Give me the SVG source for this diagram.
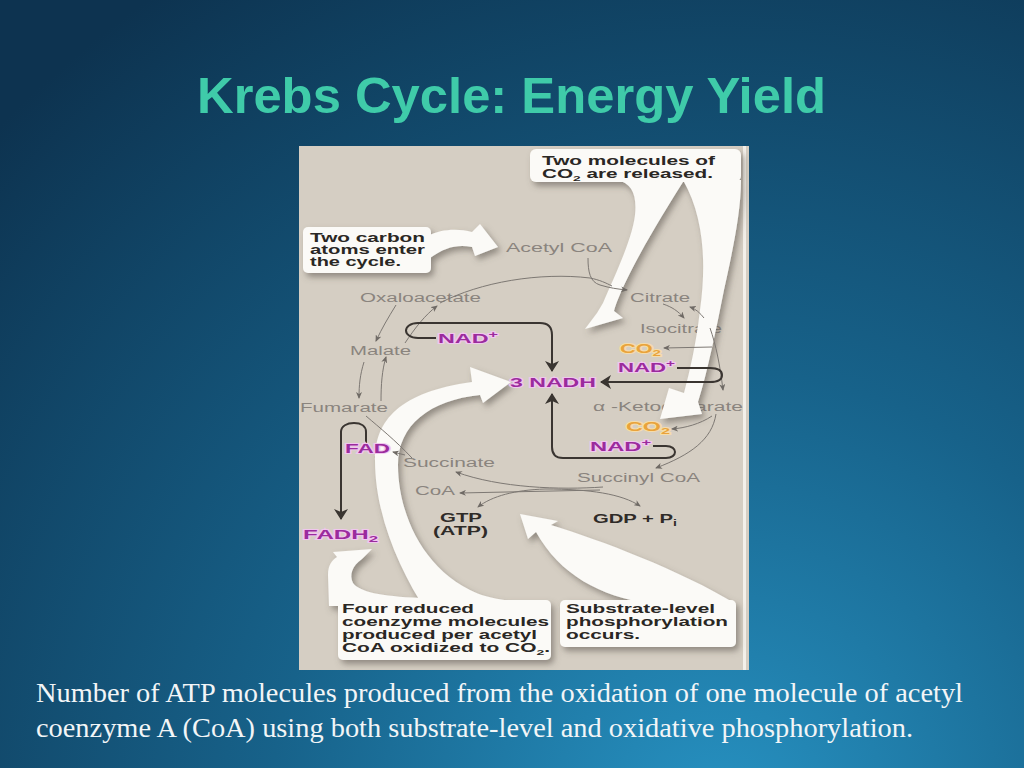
<svg xmlns="http://www.w3.org/2000/svg" width="1024" height="768" viewBox="0 0 1024 768">
<defs>
<radialGradient id="bg" cx="720" cy="820" r="1000" gradientUnits="userSpaceOnUse">
<stop offset="0" stop-color="#2792c2"/>
<stop offset="0.45" stop-color="#17628a"/>
<stop offset="1" stop-color="#0d3350"/>
</radialGradient>
<filter id="sh" x="-15%" y="-15%" width="140%" height="140%">
<feDropShadow dx="3" dy="4" stdDeviation="3" flood-color="#5a534c" flood-opacity="0.55"/>
</filter>
<marker id="ag" viewBox="0 0 7 6" refX="6" refY="3" markerWidth="7" markerHeight="6" markerUnits="userSpaceOnUse" orient="auto">
<path d="M0,0 L7,3 L0,6 L2,3 Z" fill="#6f6a65"/>
</marker>
<marker id="ad" viewBox="0 0 11 14" refX="10" refY="7" markerWidth="11" markerHeight="14" markerUnits="userSpaceOnUse" orient="auto">
<path d="M0,0 L11,7 L0,14 L3,7 Z" fill="#3a3531"/>
</marker>
<style>
.title{font-family:"Liberation Sans",Arial,sans-serif;font-weight:bold;font-size:50px;fill:#3fcba9}
.cap{font-family:"Liberation Serif","Times New Roman",serif;font-size:28px;fill:#f2f5f7}
.lbl{font-family:"Liberation Sans",Arial,sans-serif;font-size:12.5px;fill:#8a847e}
.mag{font-family:"Liberation Sans",Arial,sans-serif;font-weight:bold;font-size:13px;fill:#9b2b9d;stroke:#f0c6ee;stroke-width:2;paint-order:stroke}
.org{font-family:"Liberation Sans",Arial,sans-serif;font-weight:bold;font-size:13px;fill:#e9a33b;stroke:#f5dcaa;stroke-width:2;paint-order:stroke}
.drk{font-family:"Liberation Sans",Arial,sans-serif;font-weight:bold;font-size:13px;fill:#2f2b28}
.box{font-family:"Liberation Sans",Arial,sans-serif;font-weight:bold;font-size:12px;fill:#2a2724}
.white{fill:#fbfaf7}
.thin{fill:none;stroke:#7d7873;stroke-width:1}
.dark{fill:none;stroke:#3a3531;stroke-width:2}
</style>
</defs>

<rect x="0" y="0" width="1024" height="768" fill="url(#bg)"/>

<text class="title" x="197" y="113" textLength="629" lengthAdjust="spacingAndGlyphs">Krebs Cycle: Energy Yield</text>

<!-- panel -->
<rect x="299" y="146" width="450" height="524" fill="#d5cec3"/>
<rect x="743" y="146" width="3" height="524" fill="#f3f0ea"/>

<!-- pathway labels (nodes) -->
<g id="acetyl-coa"><text class="lbl" x="506" y="252" textLength="106" lengthAdjust="spacingAndGlyphs">Acetyl CoA</text></g>
<g id="oxaloacetate"><text class="lbl" x="360" y="302" textLength="121" lengthAdjust="spacingAndGlyphs">Oxaloacetate</text></g>
<g id="citrate"><text class="lbl" x="630" y="302" textLength="60" lengthAdjust="spacingAndGlyphs">Citrate</text></g>
<g id="isocitrate"><text class="lbl" x="640" y="333" textLength="82" lengthAdjust="spacingAndGlyphs">Isocitrate</text></g>
<g id="malate"><text class="lbl" x="350" y="355" textLength="61" lengthAdjust="spacingAndGlyphs">Malate</text></g>
<g id="fumarate"><text class="lbl" x="300" y="412" textLength="88" lengthAdjust="spacingAndGlyphs">Fumarate</text></g>
<g id="a-ketoglutarate"><text class="lbl" x="593" y="411" textLength="150" lengthAdjust="spacingAndGlyphs">α -Ketoglutarate</text></g>
<g id="succinate"><text class="lbl" x="403" y="467" textLength="92" lengthAdjust="spacingAndGlyphs">Succinate</text></g>
<g id="succinyl-coa"><text class="lbl" x="577" y="482" textLength="123" lengthAdjust="spacingAndGlyphs">Succinyl CoA</text></g>
<g id="coa"><text class="lbl" x="415" y="495" textLength="40" lengthAdjust="spacingAndGlyphs">CoA</text></g>

<!-- top callout: two molecules of CO2 -->
<g id="callout-co2">
<g filter="url(#sh)">
<rect class="white" x="530" y="149" width="211" height="33" rx="6"/>
<path class="white" d="M600,180 L617,180 C632,183 637,195 635,215 C632,240 615,275 603,303 L597,313 L585,329 L623,318 L614,311 C620,290 640,250 683,182 Z"/>
<path class="white" d="M683,180 C703,215 707,260 700,310 C696,345 690,370 684,393 L669,388 L660,419 L702,414 L698,402 C708,370 716,330 724,290 C734,245 741,210 741,180 Z"/>
</g>
<text class="box" x="542" y="165" textLength="173" lengthAdjust="spacingAndGlyphs">Two molecules of</text>
<text class="box" x="542" y="178" textLength="171" lengthAdjust="spacingAndGlyphs">CO<tspan font-size="8" dy="3">2</tspan><tspan dy="-3"> are released.</tspan></text>
</g>

<!-- callout: two carbon atoms -->
<g id="callout-carbon">
<g filter="url(#sh)">
<rect class="white" x="303" y="227" width="128" height="46" rx="5"/>
<path class="white" d="M428,236 C440,229 458,228 472,232 L480,224 L498,247 L475,256 L472,247 C458,244 445,247 430,258 Z"/>
</g>
<text class="box" x="310" y="242" textLength="115" lengthAdjust="spacingAndGlyphs">Two carbon</text>
<text class="box" x="310" y="254" textLength="115" lengthAdjust="spacingAndGlyphs">atoms enter</text>
<text class="box" x="310" y="266" textLength="91" lengthAdjust="spacingAndGlyphs">the cycle.</text>
</g>

<!-- bottom callouts -->
<g id="callout-coenzymes">
<g filter="url(#sh)">
<rect class="white" x="338" y="600" width="213" height="60" rx="5"/>
<path class="white" d="M329,606 L328,575 C328,565 332,560 337,557 L333,552 L372,549 L362,559 C352,566 349,575 353,583 C360,592 380,596 420,598 L420,606 Z"/>
<path class="white" d="M420,601 C395,560 375,510 375,460 C375,420 400,392 472,382 L470,367 L511,382 L483,403 L480,395 C430,400 398,425 398,465 C398,510 420,565 470,590 C480,595 490,598 510,601 Z"/>
</g>
<text class="box" x="342" y="613" textLength="132" lengthAdjust="spacingAndGlyphs">Four reduced</text>
<text class="box" x="342" y="626" textLength="207" lengthAdjust="spacingAndGlyphs">coenzyme molecules</text>
<text class="box" x="342" y="639" textLength="195" lengthAdjust="spacingAndGlyphs">produced per acetyl</text>
<text class="box" x="342" y="652" textLength="208" lengthAdjust="spacingAndGlyphs">CoA oxidized to CO<tspan font-size="8" dy="3">2</tspan><tspan dy="-3">.</tspan></text>
</g>

<g id="callout-substrate">
<g filter="url(#sh)">
<rect class="white" x="560" y="600" width="176" height="47" rx="5"/>
<path class="white" d="M520,514 L558,521 L551,525 C600,540 680,570 736,604 L650,604 C600,596 560,575 536,532 L528,539 Z"/>
</g>
<text class="box" x="566" y="613" textLength="149" lengthAdjust="spacingAndGlyphs">Substrate-level</text>
<text class="box" x="566" y="626" textLength="162" lengthAdjust="spacingAndGlyphs">phosphorylation</text>
<text class="box" x="566" y="639" textLength="74" lengthAdjust="spacingAndGlyphs">occurs.</text>
</g>

<!-- connectors -->
<g id="connectors">
<path class="thin" d="M588,258 C588,272 590,282 600,285 C610,288 617,289 627,290" marker-end="url(#ag)"/>
<path class="thin" d="M440,303 C480,282 540,272 590,278 C600,280 606,283 612,286"/>
<path class="thin" d="M663,304 C672,307 678,311 684,318" marker-end="url(#ag)"/>
<path class="thin" d="M704,318 C700,313 696,309 690,307" marker-end="url(#ag)"/>
<path class="thin" d="M710,328 C716,345 720,365 723,390" marker-end="url(#ag)"/>
<path class="thin" d="M712,347 L664,348" marker-end="url(#ag)"/>
<path class="thin" d="M712,416 C700,424 685,428 672,429" marker-end="url(#ag)"/>
<path class="thin" d="M716,414 C712,440 690,455 656,468" marker-end="url(#ag)"/>
<path class="thin" d="M603,487 C560,490 500,488 456,472" marker-end="url(#ag)"/>
<path class="thin" d="M600,490 L460,493" marker-end="url(#ag)"/>
<path class="thin" d="M545,489 C515,490 492,496 478,507" marker-end="url(#ag)"/>
<path class="thin" d="M545,489 C590,489 622,494 640,506" marker-end="url(#ag)"/>
<path class="thin" d="M405,343 C415,328 425,315 437,306" marker-end="url(#ag)"/>
<path class="thin" d="M396,305 C388,318 382,328 376,341" marker-end="url(#ag)"/>
<path class="thin" d="M364,362 C360,375 359,385 359,398" marker-end="url(#ag)"/>
<path class="thin" d="M381,401 C381,385 382,370 386,357" marker-end="url(#ag)"/>
<path class="thin" d="M412,458 C395,440 380,428 366,416"/>
<path class="thin" d="M405,455 L393,452" marker-end="url(#ag)"/>
<path class="dark" d="M436,338 L418,338 C410,338 406,334 406,330.5 C406,327 410,323 418,323 L540,323 C548,323 552,327 552,335 L552,371" marker-end="url(#ad)"/>
<path class="dark" d="M677,368 L710,368 C718,368 722,371 722,375 C722,379 718,382 710,382 L601,382" marker-end="url(#ad)"/>
<path class="dark" d="M653,446 L666,446 C672,446 675,449 675,452 C675,455 672,458 666,458 L563,458 C556,458 552,454 552,447 L552,394" marker-end="url(#ad)"/>
<path class="dark" d="M366,443 L366,432 C366,426 361,423 354,423 C347,423 341,426 341,432 L341,519" marker-end="url(#ad)"/>
</g>

<!-- cofactor labels -->
<g id="nad-1"><text class="mag" x="438" y="343" textLength="60" lengthAdjust="spacingAndGlyphs">NAD<tspan font-size="9" dy="-5">+</tspan></text></g>
<g id="nadh"><text class="mag" x="510" y="387" textLength="86" lengthAdjust="spacingAndGlyphs">3 NADH</text></g>
<g id="co2-1"><text class="org" x="620" y="353" textLength="41" lengthAdjust="spacingAndGlyphs">CO<tspan font-size="9" dy="3">2</tspan></text></g>
<g id="nad-2"><text class="mag" x="618" y="372" textLength="57" lengthAdjust="spacingAndGlyphs">NAD<tspan font-size="9" dy="-5">+</tspan></text></g>
<g id="co2-2"><text class="org" x="626" y="431" textLength="44" lengthAdjust="spacingAndGlyphs">CO<tspan font-size="9" dy="3">2</tspan></text></g>
<g id="nad-3"><text class="mag" x="590" y="451" textLength="61" lengthAdjust="spacingAndGlyphs">NAD<tspan font-size="9" dy="-5">+</tspan></text></g>
<g id="fad"><text class="mag" x="345" y="453" textLength="45" lengthAdjust="spacingAndGlyphs">FAD</text></g>
<g id="fadh2"><text class="mag" x="303" y="539" textLength="75" lengthAdjust="spacingAndGlyphs">FADH<tspan font-size="9" dy="3">2</tspan></text></g>
<g id="gtp">
<text class="drk" x="440" y="522" textLength="42" lengthAdjust="spacingAndGlyphs">GTP</text>
<text class="drk" x="433" y="535" textLength="55" lengthAdjust="spacingAndGlyphs">(ATP)</text>
</g>
<g id="gdp"><text class="drk" x="593" y="523" textLength="84" lengthAdjust="spacingAndGlyphs">GDP + P<tspan font-size="9" dy="3">i</tspan></text></g>

<!-- caption -->
<text class="cap" x="36" y="702" textLength="927" lengthAdjust="spacingAndGlyphs">Number of ATP molecules produced from the oxidation of one molecule of acetyl</text>
<text class="cap" x="36" y="737" textLength="877" lengthAdjust="spacingAndGlyphs">coenzyme A (CoA) using both substrate-level and oxidative phosphorylation.</text>
</svg>
